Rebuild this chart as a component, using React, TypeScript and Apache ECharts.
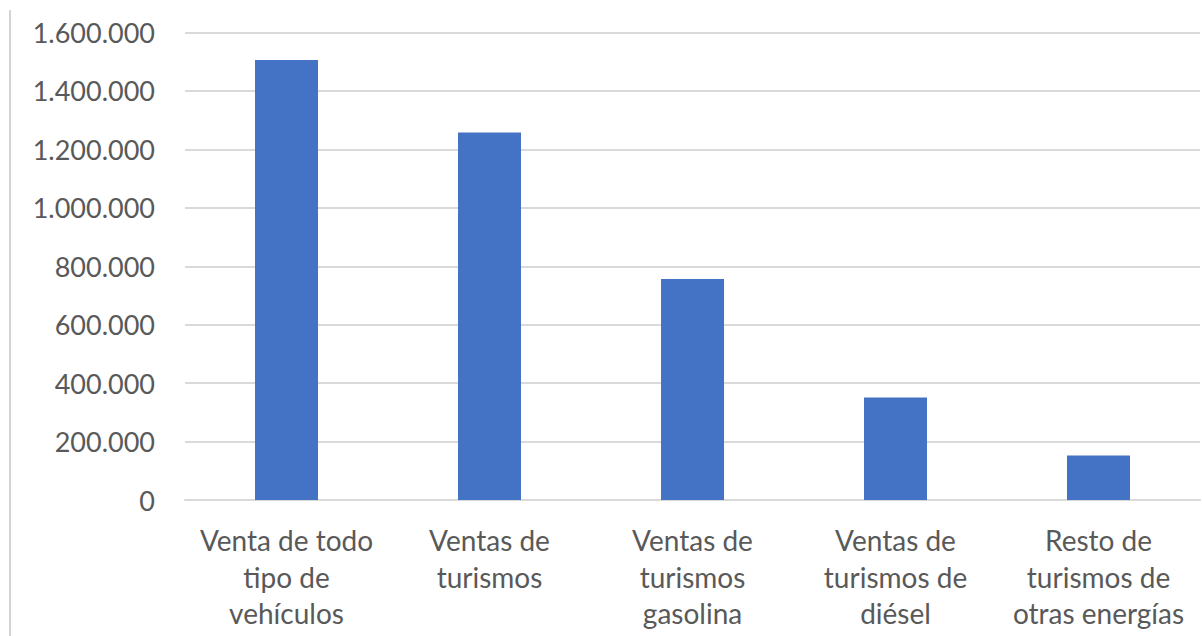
import React, { useEffect, useRef } from "react";
import * as echarts from "echarts";

const categories = [
  "Venta de todo\ntipo de\nvehículos",
  "Ventas de\nturismos",
  "Ventas de\nturismos\ngasolina",
  "Ventas de\nturismos de\ndiésel",
  "Resto de\nturismos de\notras energías",
];
const values = [1506000, 1258000, 756000, 351000, 152000];
const yMin = 0;
const yMax = 1600000;
const yStep = 200000;

const fmt = (v: number) => String(Math.round(v)).replace(/\B(?=(\d{3})+(?!\d))/g, ".");

export default function App() {
  const ref = useRef<HTMLDivElement>(null);
  useEffect(() => {
    if (!ref.current) return;
    const chart = echarts.init(ref.current, null, { renderer: "svg" });
    chart.setOption({
      animation: false,
      backgroundColor: "#ffffff",
      textStyle: { fontFamily: "Lato" },
      grid: { left: 185, right: 2, top: 32.5, bottom: 136 },
      graphic: [
        {
          type: "line",
          shape: { x1: 10, y1: 10, x2: 10, y2: 636 },
          style: { stroke: "#d4d4d4", lineWidth: 2 },
        },
      ],
      xAxis: {
        type: "category",
        data: categories,
        axisTick: { show: false },
        axisLine: { lineStyle: { color: "#d9d9d9", width: 2 } },
        axisLabel: {
          color: "#595959",
          fontSize: 28,
          lineHeight: 36.5,
          margin: 22,
          interval: 0,
          fontFamily: "Lato",
        },
      },
      yAxis: {
        type: "value",
        min: yMin,
        max: yMax,
        interval: yStep,
        axisLine: { show: false },
        axisTick: { show: false },
        splitLine: { lineStyle: { color: "#d9d9d9", width: 2 } },
        axisLabel: {
          color: "#595959",
          fontSize: 27,
          margin: 30,
          fontFamily: "Lato",
          formatter: (v: number) => fmt(v),
        },
      },
      series: [
        {
          type: "bar",
          data: values,
          barWidth: 63,
          itemStyle: { color: "#4472C4" },
        },
      ],
    });
    return () => chart.dispose();
  }, []);
  return (
    <div
      ref={ref}
      style={{ position: "fixed", left: 0, top: 0, width: 1202, height: 636 }}
    />
  );
}
